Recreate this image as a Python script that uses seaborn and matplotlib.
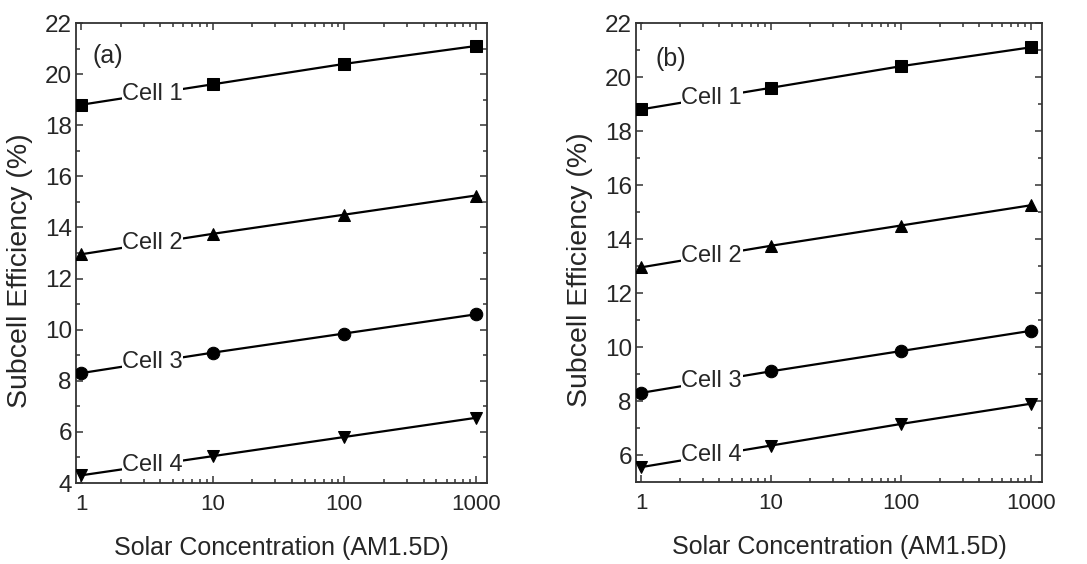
import numpy as np
import pandas as pd
import matplotlib
matplotlib.use("Agg")
import matplotlib.pyplot as plt
import seaborn as sns
from matplotlib.ticker import MultipleLocator, LogLocator, NullFormatter, FixedLocator, FixedFormatter

# --- data ---
concentration = [1, 10, 100, 1000]
cells = ["Cell 1", "Cell 2", "Cell 3", "Cell 4"]

# panel (a)
a_cell1 = [18.8, 19.6, 20.4, 21.1]
a_cell2 = [12.95, 13.75, 14.5, 15.25]
a_cell3 = [8.3, 9.1, 9.85, 10.6]
a_cell4 = [4.3, 5.05, 5.8, 6.55]

# panel (b)
b_cell1 = [18.8, 19.6, 20.4, 21.1]
b_cell2 = [12.95, 13.75, 14.5, 15.25]
b_cell3 = [8.3, 9.1, 9.85, 10.6]
b_cell4 = [5.55, 6.35, 7.15, 7.9]

panel_tags = ["(a)", "(b)"]
tag_pos = [(0.04, 0.955), (0.047, 0.948)]
y_limits = [(4, 22), (5, 22)]
y_ticks = [[4, 6, 8, 10, 12, 14, 16, 18, 20, 22], [6, 8, 10, 12, 14, 16, 18, 20, 22]]

markers = {"Cell 1": "s", "Cell 2": "^", "Cell 3": "o", "Cell 4": "v"}
marker_sizes = {"Cell 1": 8, "Cell 2": 8.5, "Cell 3": 9, "Cell 4": 8.5}


def build_frame(series):
    rows = []
    for name, vals in zip(cells, series):
        for x, y in zip(concentration, vals):
            rows.append({"x": x, "y": y, "cell": name})
    return pd.DataFrame(rows)


sns.set_theme(style="ticks")
plt.rcParams["font.family"] = ["Liberation Sans", "DejaVu Sans"]
plt.rcParams["axes.linewidth"] = 1.3

fig = plt.figure(figsize=(10.87, 5.64), dpi=100)
ax_a = fig.add_axes([76 / 1087, 1 - 483 / 564, (487 - 76) / 1087, (483 - 23) / 564])
ax_b = fig.add_axes([636 / 1087, 1 - 482 / 564, (1042 - 636) / 1087, (482 - 23) / 564])

panels = [
    (ax_a, [a_cell1, a_cell2, a_cell3, a_cell4]),
    (ax_b, [b_cell1, b_cell2, b_cell3, b_cell4]),
]

for i, (ax, series) in enumerate(panels):
    df = build_frame(series)
    for name in cells:
        sub = df[df["cell"] == name]
        sns.lineplot(data=sub, x="x", y="y", ax=ax, color="black", lw=1.6,
                     marker=markers[name], markersize=marker_sizes[name],
                     markeredgecolor="black", markerfacecolor="black", zorder=3)
        # label sits on the segment between 1 and 10, interrupting the line
        xl = 3.5
        yl = np.interp(np.log10(xl), np.log10(concentration), sub["y"].values)
        ax.text(xl, yl, name, ha="center", va="center", fontsize=17, zorder=4,
                bbox=dict(facecolor="white", edgecolor="none", pad=0.4))

    ax.set_xscale("log")
    ax.set_xlim(0.915, 1215)
    ax.set_ylim(*y_limits[i])
    ax.xaxis.set_major_locator(FixedLocator(concentration))
    ax.xaxis.set_major_formatter(FixedFormatter(["1", "10", "100", "1000"]))
    ax.xaxis.set_minor_locator(LogLocator(base=10, subs=np.arange(2, 10)))
    ax.xaxis.set_minor_formatter(NullFormatter())
    ax.yaxis.set_major_locator(FixedLocator(y_ticks[i]))
    ax.yaxis.set_minor_locator(MultipleLocator(1))

    ax.tick_params(which="both", direction="in", top=True, right=True,
                   color="#333333", width=1.1)
    ax.tick_params(which="major", length=5)
    ax.tick_params(which="minor", length=3)
    ax.tick_params(axis="x", which="major", labelsize=16, pad=8)
    ax.tick_params(axis="y", which="major", labelsize=17.5, pad=3)
    for s in ax.spines.values():
        s.set_color("#333333")

    ax.set_xlabel("Solar Concentration (AM1.5D)", fontsize=18)
    ax.set_ylabel("Subcell Efficiency (%)", fontsize=20.5)
    ax.xaxis.set_label_coords(0.5, -0.115)
    ax.yaxis.set_label_coords(-0.105, 0.462)
    ax.text(tag_pos[i][0], tag_pos[i][1], panel_tags[i], transform=ax.transAxes,
            fontsize=18, ha="left", va="top")
    ax.set_facecolor("white")

fig.savefig("out.png", dpi=100, facecolor="white")
